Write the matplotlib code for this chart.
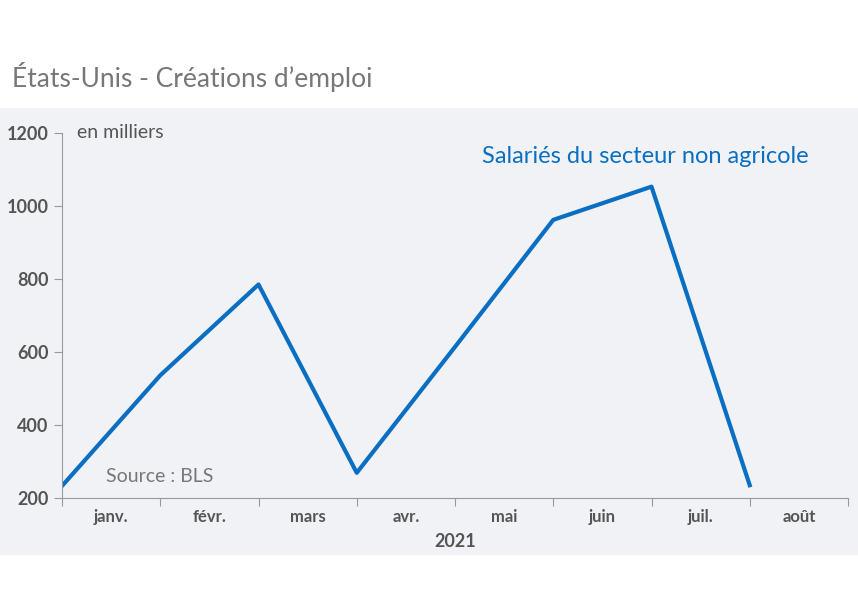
import matplotlib.pyplot as plt

months = ['janv.', 'févr.', 'mars', 'avr.', 'mai', 'juin', 'juil.', 'août']
payrolls = [233, 536, 785, 269, 614, 962, 1053, 235]
yticks = [200, 400, 600, 800, 1000, 1200]

plt.rcParams['font.family'] = 'Lato'
fig = plt.figure(figsize=(8.58, 6), dpi=100)

# grey band behind the chart
bg = fig.add_axes([0, 45 / 600, 1, 447 / 600], zorder=-1)
bg.set_facecolor('#f1f2f6')
bg.set_xticks([])
bg.set_yticks([])
for s in bg.spines.values():
    s.set_visible(False)

ax = fig.add_axes([62 / 858, 102 / 600, 786 / 858, 365 / 600])
ax.set_facecolor('none')

ax.plot(range(len(payrolls)), payrolls, color='#0a6fc2', lw=3)
ax.set_xlim(0, len(months))
ax.set_ylim(200, 1200)
ax.set_yticks(yticks)
ax.set_yticklabels([str(v) for v in yticks], fontsize=13, fontweight='bold', color='#555555')
ax.set_xticks(range(len(months) + 1))
ax.set_xticklabels([])
ax.set_xticks([i + 0.5 for i in range(len(months))], minor=True)
ax.set_xticklabels(months, minor=True, fontsize=12, fontweight='bold', color='#555555')
ax.tick_params(axis='x', which='minor', length=0, pad=8)
ax.tick_params(axis='x', which='major', length=6, color='#999999')
ax.tick_params(axis='y', length=6, color='#999999')
for s in ['top', 'right']:
    ax.spines[s].set_visible(False)
for s in ['left', 'bottom']:
    ax.spines[s].set_color('#999999')

ax.set_xlabel('2021', fontsize=13, fontweight='bold', color='#555555', labelpad=6)
ax.text(0.15, 1200, 'en milliers', fontsize=14, color='#555555', va='center')
ax.text(0.45, 260, 'Source : BLS', fontsize=14, color='#777777', va='center')
ax.text(7.6, 1135, 'Salariés du secteur non agricole', fontsize=17, color='#0a6fc2',
        ha='right', va='center')
fig.text(12 / 858, 1 - 77 / 600, 'États-Unis - Créations d’emploi', fontsize=19,
         color='#777777', va='center')

fig.savefig('out.png', dpi=100)
